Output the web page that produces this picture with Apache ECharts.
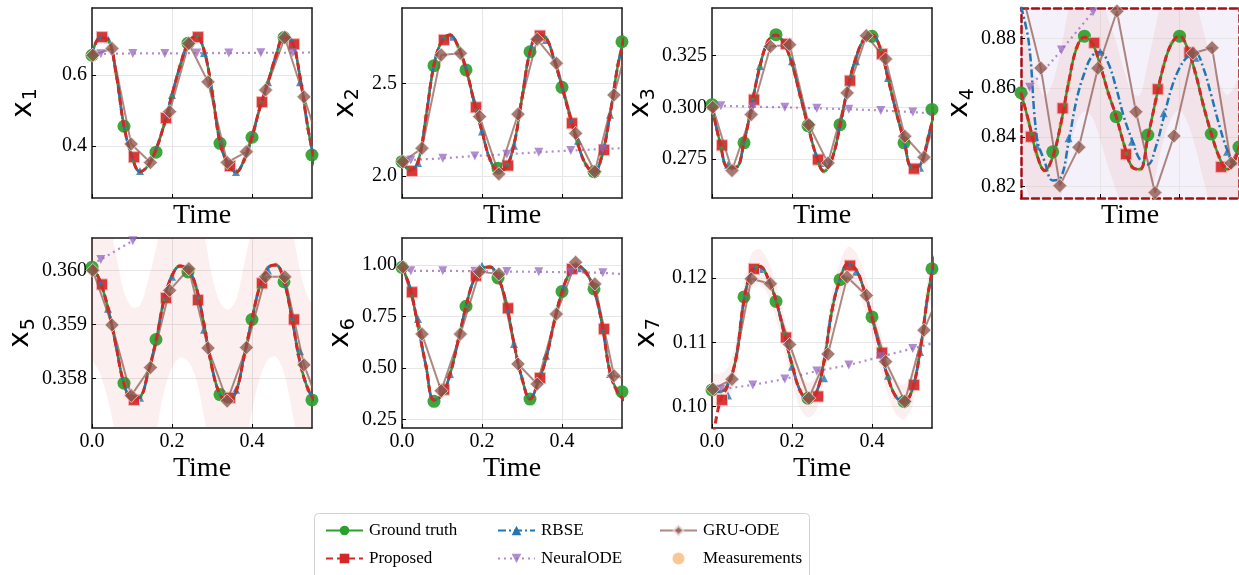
<!DOCTYPE html>
<html>
<head>
<meta charset="utf-8">
<script src="https://cdn.jsdelivr.net/npm/echarts@6/dist/echarts.min.js"></script>
<style>
  html, body { margin: 0; padding: 0; background: #fff; }
  #chart { width: 1239px; height: 575px; }
</style>
</head>
<body>
<div id="chart"></div>
<script>
// time grid of the smooth curves and the marker times of each method
const T = [0, 0.02, 0.04, 0.06, 0.08, 0.10, 0.12, 0.14, 0.16, 0.18, 0.20, 0.22, 0.24, 0.26, 0.28,
           0.30, 0.32, 0.34, 0.36, 0.38, 0.40, 0.42, 0.44, 0.46, 0.48, 0.50, 0.52, 0.54, 0.56];
const tCircle = [0, 0.08, 0.16, 0.24, 0.32, 0.40, 0.48, 0.5499];
const tSquare = [0.025, 0.105, 0.185, 0.265, 0.345, 0.425, 0.505];
const tTri = [0.04, 0.12, 0.20, 0.28, 0.36, 0.44, 0.52];
const tNeural = [0, 0.022, 0.102, 0.182, 0.262, 0.342, 0.422, 0.502, 0.55];
const tGru = [0.002, 0.05, 0.098, 0.146, 0.194, 0.242, 0.29, 0.338, 0.386, 0.434, 0.482, 0.53, 0.578];
const xTicks = [0, 0.2, 0.4];

// x1
const gt1 = [0.656, 0.705, 0.700, 0.605, 0.456, 0.370, 0.328, 0.345, 0.390, 0.460, 0.545, 0.625, 0.690, 0.710, 0.670,
             0.555, 0.410, 0.350, 0.327, 0.360, 0.425, 0.510, 0.580, 0.655, 0.706, 0.695, 0.595, 0.450, 0.335];
const gtMk1 = [0.656, 0.456, 0.383, 0.690, 0.408, 0.425, 0.706, 0.375];
const propMk1 = [0.707, 0.369, 0.479, 0.707, 0.344, 0.524, 0.687];
const rbseMk1 = [0.701, 0.330, 0.544, 0.662, 0.327, 0.580, 0.580];
const neural1 = [0.659, 0.660, 0.661, 0.661, 0.662, 0.662, 0.663, 0.663, 0.664];
const gru1 = [0.656, 0.675, 0.406, 0.354, 0.497, 0.689, 0.581, 0.354, 0.384, 0.558, 0.706, 0.539, 0.370];
const yTicks1 = [0.4, 0.6];

// x2
const gt2 = [2.080, 2.030, 2.075, 2.320, 2.600, 2.730, 2.760, 2.700, 2.580, 2.400, 2.240, 2.090, 2.030, 2.045, 2.170,
             2.420, 2.670, 2.760, 2.745, 2.630, 2.480, 2.320, 2.170, 2.060, 2.020, 2.110, 2.330, 2.600, 2.780];
const gtMk2 = [2.077, 2.595, 2.572, 2.042, 2.670, 2.478, 2.023, 2.724];
const propMk2 = [2.027, 2.734, 2.370, 2.056, 2.757, 2.284, 2.140];
const rbseMk2 = [2.070, 2.751, 2.240, 2.163, 2.734, 2.190, 2.330];
const neural2 = [2.080, 2.086, 2.095, 2.108, 2.117, 2.128, 2.137, 2.145, 2.150];
const gru2 = [2.077, 2.149, 2.653, 2.662, 2.320, 2.011, 2.333, 2.737, 2.608, 2.230, 2.023, 2.437, 2.820];
const yTicks2 = [2.0, 2.5];

// x3
const gt3 = [0.300, 0.283, 0.271, 0.271, 0.283, 0.302, 0.320, 0.332, 0.335, 0.331, 0.321, 0.306, 0.291, 0.277, 0.269,
             0.275, 0.291, 0.310, 0.324, 0.333, 0.335, 0.329, 0.314, 0.298, 0.284, 0.271, 0.272, 0.285, 0.302];
const gtMk3 = [0.3013, 0.2828, 0.3352, 0.2911, 0.2916, 0.3344, 0.2828, 0.2990];
const propMk3 = [0.2816, 0.3037, 0.3307, 0.2747, 0.3129, 0.3258, 0.2703];
const rbseMk3 = [0.2722, 0.3200, 0.3223, 0.2730, 0.3223, 0.3142, 0.2707];
const neural3 = [0.3008, 0.3008, 0.3003, 0.3000, 0.2995, 0.2991, 0.2985, 0.2977, 0.2970];
const gru3 = [0.3000, 0.2694, 0.2965, 0.3295, 0.3303, 0.2916, 0.2730, 0.3070, 0.3347, 0.3234, 0.2860, 0.2758, 0.3080];
const yTicks3 = [0.275, 0.300, 0.325];

// x4
const gt4 = [0.858, 0.846, 0.833, 0.8265, 0.832, 0.845, 0.862, 0.876, 0.8805, 0.878, 0.869, 0.858, 0.8485, 0.837, 0.828,
             0.827, 0.840, 0.855, 0.869, 0.878, 0.881, 0.876, 0.866, 0.853, 0.8415, 0.832, 0.827, 0.831, 0.842];
const rbse4 = [0.893, 0.878, 0.840, 0.830, 0.8225, 0.8235, 0.838, 0.855, 0.866, 0.873, 0.8745, 0.870, 0.860, 0.848, 0.839,
               0.831, 0.829, 0.836, 0.848, 0.860, 0.868, 0.8725, 0.874, 0.868, 0.857, 0.845, 0.835, 0.829, 0.831];
const bandLo4 = [0.828, 0.816, 0.803, 0.7965, 0.802, 0.815, 0.832, 0.846, 0.8505, 0.848, 0.839, 0.828, 0.8185, 0.807, 0.798,
                 0.797, 0.810, 0.825, 0.839, 0.848, 0.851, 0.846, 0.836, 0.823, 0.8115, 0.802, 0.797, 0.801, 0.812];
const bandHi4 = [0.888, 0.876, 0.863, 0.8565, 0.862, 0.875, 0.892, 0.906, 0.9105, 0.908, 0.899, 0.888, 0.8785, 0.867, 0.858,
                 0.857, 0.870, 0.885, 0.899, 0.908, 0.911, 0.906, 0.896, 0.883, 0.8715, 0.862, 0.857, 0.861, 0.872];
const gtMk4 = [0.858, 0.8341, 0.8809, 0.8483, 0.8409, 0.8809, 0.8413, 0.836];
const propMk4 = [0.8402, 0.8517, 0.8782, 0.8331, 0.8594, 0.8743, 0.8280];
const rbseMk4 = [0.8362, 0.8396, 0.8746, 0.8382, 0.8497, 0.8722, 0.8341];
const neural4 = [0.853, 0.8602, 0.8753, 0.8908, 0.906, 0.921, 0.936, 0.951, 0.960];
const gru4 = [0.899, 0.868, 0.8204, 0.8359, 0.8679, 0.891, 0.8503, 0.8176, 0.8405, 0.874, 0.8762, 0.8295, 0.845];
const yTicks4 = [0.82, 0.84, 0.86, 0.88];

// x5
const gt5 = [0.3601, 0.3598, 0.3593, 0.3586, 0.3579, 0.35762, 0.35765, 0.3581, 0.3587, 0.35945, 0.3599, 0.36008, 0.36002, 0.3597, 0.3590,
             0.3582, 0.3577, 0.35757, 0.35775, 0.3584, 0.3591, 0.35972, 0.36005, 0.3601, 0.3598, 0.3591, 0.3583, 0.3578, 0.35755];
const bandLo5 = [0.3584, 0.3581, 0.3576, 0.3569, 0.3562, 0.35592, 0.35595, 0.3564, 0.3570, 0.35775, 0.3582, 0.35838, 0.35832, 0.3580, 0.3573,
                 0.3565, 0.3560, 0.35587, 0.35605, 0.3567, 0.3574, 0.35802, 0.35835, 0.3584, 0.3581, 0.3574, 0.3566, 0.3561, 0.35585];
const bandHi5 = [0.3618, 0.3615, 0.3610, 0.3603, 0.3596, 0.35932, 0.35935, 0.3598, 0.3604, 0.36115, 0.3616, 0.36178, 0.36172, 0.3614, 0.3607,
                 0.3599, 0.3594, 0.35927, 0.35945, 0.3601, 0.3608, 0.36142, 0.36175, 0.3618, 0.3615, 0.3608, 0.3600, 0.3595, 0.35925];
const gtMk5 = [0.36006, 0.35791, 0.35872, 0.35997, 0.35770, 0.35909, 0.35979, 0.35760];
const propMk5 = [0.35974, 0.35760, 0.35949, 0.35945, 0.35764, 0.35976, 0.35909];
const rbseMk5 = [0.35929, 0.35764, 0.35988, 0.35890, 0.35779, 0.36000, 0.35850];
const neural5 = [0.36012, 0.36020, 0.36055, 0.36090, 0.36130, 0.36170, 0.36210, 0.36250, 0.36270];
const gru5 = [0.36000, 0.35899, 0.35768, 0.35820, 0.35963, 0.36003, 0.35856, 0.35758, 0.35857, 0.35988, 0.35988, 0.35825, 0.35730];
const yTicks5 = [0.358, 0.359, 0.360];

// x6
const gt6 = [0.990, 0.890, 0.705, 0.510, 0.345, 0.370, 0.470, 0.630, 0.800, 0.930, 0.985, 0.990, 0.940, 0.820, 0.620,
             0.450, 0.350, 0.430, 0.545, 0.720, 0.870, 0.965, 0.995, 0.965, 0.880, 0.715, 0.480, 0.380, 0.340];
const gtMk6 = [0.989, 0.339, 0.800, 0.937, 0.350, 0.872, 0.884, 0.386];
const propMk6 = [0.868, 0.396, 0.948, 0.790, 0.452, 0.981, 0.690];
const rbseMk6 = [0.738, 0.472, 0.997, 0.617, 0.560, 0.984, 0.472];
const neural6 = [0.975, 0.972, 0.972, 0.970, 0.968, 0.967, 0.965, 0.962, 0.956];
const gru6 = [0.990, 0.665, 0.390, 0.665, 0.968, 0.956, 0.520, 0.423, 0.762, 1.013, 0.908, 0.463, 0.440];
const yTicks6 = [0.25, 0.50, 0.75, 1.00];

// x7
const gt7 = [0.1025, 0.1023, 0.1035, 0.1075, 0.1165, 0.1212, 0.1218, 0.1200, 0.1165, 0.1115, 0.1065, 0.1025, 0.1010, 0.1020, 0.1070,
             0.1150, 0.1198, 0.1222, 0.1213, 0.1182, 0.1138, 0.1090, 0.1045, 0.1015, 0.1007, 0.1025, 0.1085, 0.1175, 0.1240];
const prop7 = [0.0940, 0.1008, 0.1033, 0.1075, 0.1165, 0.1212, 0.1218, 0.1200, 0.1165, 0.1115, 0.1065, 0.1025, 0.1010, 0.1020, 0.1070,
               0.1150, 0.1198, 0.1222, 0.1213, 0.1182, 0.1138, 0.1090, 0.1045, 0.1015, 0.1007, 0.1025, 0.1085, 0.1175, 0.1240];
const bandLo7 = [0.0998, 0.0996, 0.1008, 0.1048, 0.1138, 0.1185, 0.1191, 0.1173, 0.1138, 0.1088, 0.1038, 0.0998, 0.0983, 0.0993, 0.1043,
                 0.1123, 0.1171, 0.1195, 0.1186, 0.1155, 0.1111, 0.1063, 0.1018, 0.0988, 0.0980, 0.0998, 0.1058, 0.1148, 0.1213];
const bandHi7 = [0.1052, 0.1050, 0.1062, 0.1102, 0.1192, 0.1239, 0.1245, 0.1227, 0.1192, 0.1142, 0.1092, 0.1052, 0.1037, 0.1047, 0.1097,
                 0.1177, 0.1225, 0.1249, 0.1240, 0.1209, 0.1165, 0.1117, 0.1072, 0.1042, 0.1034, 0.1052, 0.1112, 0.1202, 0.1267];
const gtMk7 = [0.10257, 0.11706, 0.11637, 0.10129, 0.11974, 0.11395, 0.10078, 0.12144];
const propMk7 = [0.10102, 0.12144, 0.11074, 0.10155, 0.12195, 0.10837, 0.10335];
const rbseMk7 = [0.1017, 0.1214, 0.1062, 0.1044, 0.1210, 0.1048, 0.1085];
const neural7 = [0.1022, 0.10268, 0.10335, 0.10428, 0.10552, 0.10645, 0.10775, 0.10904, 0.10981];
const gru7 = [0.1027, 0.10423, 0.11989, 0.11912, 0.10966, 0.10129, 0.10816, 0.12016, 0.1173, 0.10698, 0.10078, 0.11188, 0.1190];
const yTicks7 = [0.10, 0.11, 0.12];

const FONT = 'Liberation Serif';
const GREEN = '#2ca02c', RED = '#d62728', BLUE = '#1f77b4', PURPLE = '#9467bd', BROWN = '#8c564b', ORANGE = '#f9bd85';
const BAND = 'rgba(214,39,40,0.075)';

// panel placement (pixels) and axis ranges
const panels = [
  { left: 92,   top: 8,   gap: 52, y: [0.254, 0.789],    dec: 1, gt: gt1, prop: gt1,   rbse: gt1,   gtMk: gtMk1, propMk: propMk1, rbseMk: rbseMk1, neural: neural1, gru: gru1, ticks: yTicks1 },
  { left: 402,  top: 8,   gap: 40, y: [1.881, 2.906],    dec: 1, gt: gt2, prop: gt2,   rbse: gt2,   gtMk: gtMk2, propMk: propMk2, rbseMk: rbseMk2, neural: neural2, gru: gru2, ticks: yTicks2 },
  { left: 712,  top: 8,   gap: 49, y: [0.2561, 0.3481],  dec: 3, gt: gt3, prop: gt3,   rbse: gt3,   gtMk: gtMk3, propMk: propMk3, rbseMk: rbseMk3, neural: neural3, gru: gru3, ticks: yTicks3 },
  { left: 1021, top: 8,   gap: 39, y: [0.8154, 0.8923],  dec: 2, gt: gt4, prop: gt4,   rbse: rbse4, gtMk: gtMk4, propMk: propMk4, rbseMk: rbseMk4, neural: neural4, gru: gru4, ticks: yTicks4, lo: bandLo4, hi: bandHi4, special: true },
  { left: 92,   top: 238, gap: 52, y: [0.35708, 0.3606], dec: 3, gt: gt5, prop: gt5,   rbse: gt5,   gtMk: gtMk5, propMk: propMk5, rbseMk: rbseMk5, neural: neural5, gru: gru5, ticks: yTicks5, lo: bandLo5, hi: bandHi5 },
  { left: 402,  top: 238, gap: 40, y: [0.2098, 1.131],   dec: 2, gt: gt6, prop: gt6,   rbse: gt6,   gtMk: gtMk6, propMk: propMk6, rbseMk: rbseMk6, neural: neural6, gru: gru6, ticks: yTicks6 },
  { left: 712,  top: 238, gap: 49, y: [0.09664, 0.12625],dec: 2, gt: gt7, prop: prop7, rbse: gt7,   gtMk: gtMk7, propMk: propMk7, rbseMk: rbseMk7, neural: neural7, gru: gru7, ticks: yTicks7, lo: bandLo7, hi: bandHi7 }
];

const pairs = (xs, ys) => xs.map((x, k) => [x, ys[k]]);
const frameStyle = p => p.special
  ? { color: '#a50f15', width: 2.5, type: [7, 4] }
  : { color: '#1a1a1a', width: 1.5 };
const gridLine = { show: true, lineStyle: { color: '#e6e6e6', width: 1 } };

const grids = panels.map(p => ({
  left: p.left, top: p.top, width: 220, height: 190,
  show: !!p.special, backgroundColor: p.special ? '#f5f1fa' : 'transparent', borderWidth: 0
}));

const xBottom = panels.map((p, i) => ({
  gridIndex: i, type: 'value', min: 0, max: 0.55, interval: 0.2, position: 'bottom',
  name: 'Time', nameLocation: 'middle', nameGap: i < 4 ? 4 : 27,
  nameTextStyle: { fontFamily: FONT, fontSize: 28, color: '#000' },
  axisLine: { show: true, onZero: false, lineStyle: frameStyle(p) },
  axisTick: { show: true, inside: true, length: 4, customValues: xTicks, lineStyle: { color: '#000' } },
  axisLabel: { show: i >= 4, customValues: xTicks, formatter: v => v.toFixed(1), fontFamily: FONT, fontSize: 20, color: '#000', margin: 4 },
  splitLine: gridLine
}));
const xTop = panels.map((p, i) => ({
  gridIndex: i, type: 'value', min: 0, max: 0.55, position: 'top',
  axisLine: { show: true, onZero: false, lineStyle: frameStyle(p) },
  axisTick: { show: false }, axisLabel: { show: false }, splitLine: { show: false }
}));
const yLeft = panels.map((p, i) => ({
  gridIndex: i, type: 'value', min: p.y[0], max: p.y[1], position: 'left',
  minInterval: p.ticks[1] - p.ticks[0], maxInterval: p.ticks[1] - p.ticks[0],
  name: '{a|x}{b|' + (i + 1) + '}', nameLocation: 'middle', nameRotate: 90, nameGap: p.gap,
  nameTextStyle: {
    rich: {
      a: { fontFamily: 'DejaVu Sans', fontSize: 28, color: '#000', lineHeight: 30, verticalAlign: 'top' },
      b: { fontFamily: 'DejaVu Sans', fontSize: 19, color: '#000', lineHeight: 20, padding: [12, 0, 0, 1], verticalAlign: 'top' }
    }
  },
  axisLine: { show: true, onZero: false, lineStyle: frameStyle(p) },
  axisTick: { show: true, inside: true, length: 4, customValues: p.ticks, lineStyle: { color: '#000' } },
  axisLabel: { customValues: p.ticks, formatter: v => v.toFixed(p.dec), fontFamily: FONT, fontSize: 20, color: '#000', margin: 5 },
  splitLine: gridLine
}));
const yRight = panels.map((p, i) => ({
  gridIndex: i, type: 'value', min: p.y[0], max: p.y[1], position: 'right',
  axisLine: { show: true, onZero: false, lineStyle: frameStyle(p) },
  axisTick: { show: false }, axisLabel: { show: false }, splitLine: { show: false }
}));

const series = [];
panels.forEach((p, i) => {
  const ax = { xAxisIndex: i, yAxisIndex: i };
  if (p.lo) {
    const lo = p.lo, hi = p.hi;
    // uncertainty band: upper edge forward, lower edge back, through the axis scales
    series.push({ ...ax, type: 'custom', silent: true, data: [[0, lo[0]]],
      renderItem: (params, api) => {
        const up = T.map((t, k) => api.coord([t, hi[k]]));
        const dn = T.map((t, k) => api.coord([t, lo[k]])).reverse();
        const cs = params.coordSys;
        return {
          type: 'polygon', shape: { points: up.concat(dn), smooth: 0.3 }, style: { fill: BAND },
          clipPath: { type: 'rect', shape: { x: cs.x, y: cs.y, width: cs.width, height: cs.height } }
        };
      } });
  }
  series.push({ ...ax, name: 'Measurements', type: 'scatter', data: pairs(T, p.gt), symbol: 'circle', symbolSize: 5,
    itemStyle: { color: ORANGE, opacity: 0.85 } });
  series.push({ ...ax, name: 'Ground truth', type: 'line', data: pairs(T, p.gt), smooth: 0.4, symbol: 'circle', showSymbol: false,
    lineStyle: { color: GREEN, width: 2.5 }, itemStyle: { color: GREEN } });
  series.push({ ...ax, name: 'RBSE', type: 'line', data: pairs(T, p.rbse), smooth: 0.4, symbol: 'triangle', showSymbol: false,
    lineStyle: { color: BLUE, width: 2.5, type: [8, 3, 2, 3] }, itemStyle: { color: BLUE } });
  series.push({ ...ax, name: 'NeuralODE', type: 'line', symbol: 'triangle', symbolRotate: 180, symbolSize: 9,
    data: tNeural.map((t, k) => ({ value: [t, p.neural[k]], symbol: (k === 0 || k === tNeural.length - 1) ? 'none' : 'triangle' })),
    lineStyle: { color: PURPLE, width: 2.2, type: [2, 4], opacity: 0.75 }, itemStyle: { color: PURPLE, opacity: 0.75 } });
  series.push({ ...ax, name: 'Ground truth', type: 'scatter', data: pairs(tCircle, p.gtMk), symbol: 'circle', symbolSize: 13,
    itemStyle: { color: GREEN, opacity: 0.92 } });
  series.push({ ...ax, name: 'RBSE', type: 'scatter', data: pairs(tTri, p.rbseMk), symbol: 'triangle', symbolSize: 8,
    itemStyle: { color: BLUE } });
  series.push({ ...ax, name: 'GRU-ODE', type: 'line', data: pairs(tGru, p.gru), symbol: 'diamond', symbolSize: 14,
    lineStyle: { color: BROWN, width: 2, opacity: 0.7 }, itemStyle: { color: BROWN, opacity: 0.78, borderColor: '#eadad5', borderWidth: 1 } });
  series.push({ ...ax, name: 'Proposed', type: 'line', data: pairs(T, p.prop), smooth: 0.4, symbol: 'rect', showSymbol: false,
    lineStyle: { color: RED, width: 3, type: [7, 4] }, itemStyle: { color: RED } });
  series.push({ ...ax, name: 'Proposed', type: 'scatter', data: pairs(tSquare, p.propMk), symbol: 'rect', symbolSize: 11,
    itemStyle: { color: RED, opacity: 0.92, borderColor: '#f6b5b5', borderWidth: 1 } });
});

const legendBase = {
  orient: 'vertical', top: 517, itemWidth: 37, itemHeight: 12, itemGap: 11, selectedMode: false,
  textStyle: { fontFamily: FONT, fontSize: 17, color: '#000', padding: [0, 0, 0, 1] }
};

const chart = echarts.init(document.getElementById('chart'));
chart.setOption({
  animation: false,
  backgroundColor: '#fff',
  grid: grids,
  xAxis: xBottom.concat(xTop),
  yAxis: yLeft.concat(yRight),
  legend: [
    { ...legendBase, left: 320, data: ['Ground truth', 'Proposed'] },
    { ...legendBase, left: 492, data: ['RBSE', 'NeuralODE'] },
    { ...legendBase, left: 654, data: ['GRU-ODE', 'Measurements'] }
  ],
  graphic: [{
    type: 'rect', left: 314, top: 513, z: 0,
    shape: { width: 495, height: 70, r: 4 },
    style: { fill: '#fff', stroke: '#d3d3d3', lineWidth: 1 }
  }],
  series: series
});
</script>
</body>
</html>
